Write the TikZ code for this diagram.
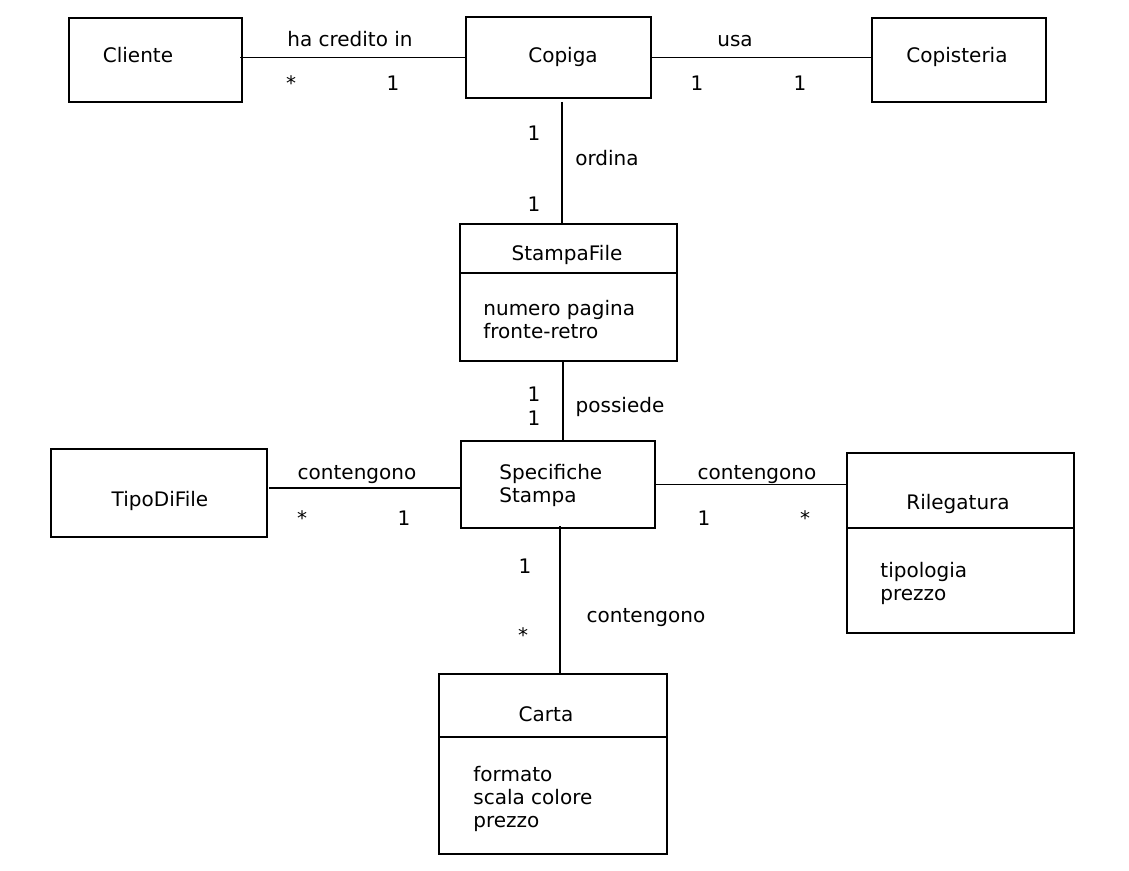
\documentclass[tikz,border=0pt]{standalone}
\usepackage{fontspec}
\setmainfont{DejaVu Sans}
\begin{document}
\begin{tikzpicture}[
		     x=0.5pt, y=-0.5pt,
		     font=\fontsize{10}{11.5}\selectfont,
		     class/.style={draw,line width=1pt,inner sep=0pt,outer sep=0pt},
		     lbl/.style={anchor=base,inner sep=0pt,yshift=-1pt},
		     attr/.style={anchor=base west,inner sep=0pt,yshift=-1pt},
		     assoc/.style={line width=0.9pt},
		     divider/.style={line width=0.6pt}
		     ]
\useasboundingbox (0,0) rectangle (1129,871);
% classes
\node[class,minimum width=86.5pt,minimum height=42pt] (cliente) at (155.5,60) {};
\node[class,minimum width=92.5pt,minimum height=40.5pt] (copiga) at (558.5,57.5) {};
\node[class,minimum width=87pt,minimum height=42pt] (copisteria) at (959,60) {};
\node[class,minimum width=108.5pt,minimum height=68.5pt] (stampafile) at (568.5,292.5) {};
\node[class,minimum width=97pt,minimum height=43.5pt] (specifiche) at (558,484.5) {};
\node[class,minimum width=108pt,minimum height=44pt] (tipodifile) at (159,493) {};
\node[class,minimum width=113.5pt,minimum height=90pt] (rilegatura) at (960.5,543) {};
\node[class,minimum width=114pt,minimum height=90pt] (carta) at (553,764) {};
\draw[divider] (stampafile.west |- 0,273) -- (stampafile.east |- 0,273);
\draw[divider] (rilegatura.west |- 0,528) -- (rilegatura.east |- 0,528);
\draw[divider] (carta.west |- 0,737) -- (carta.east |- 0,737);
% class names and attributes
\node[lbl] (n-cliente) at (138,61) {Cliente};
\node[lbl] (n-copiga) at (563,61) {Copiga};
\node[lbl] (n-copisteria) at (957,61) {Copisteria};
\node[lbl] (n-stampafile) at (567,259) {StampaFile};
\node[attr] (a-numero) at (483,314) {numero pagina};
\node[attr] (a-fronte) at (483,337) {fronte-retro};
\node[attr] (n-spec1) at (499,477) {Specifiche};
\node[attr] (n-spec2) at (499,500) {Stampa};
\node[lbl] (n-tipodifile) at (160,504) {TipoDiFile};
\node[lbl] (n-rilegatura) at (958,507) {Rilegatura};
\node[attr] (a-tipologia) at (880,575) {tipologia};
\node[attr] (a-prezzo1) at (880,598) {prezzo};
\node[lbl] (n-carta) at (546,719) {Carta};
\node[attr] (a-formato) at (473,779) {formato};
\node[attr] (a-scala) at (473,802) {scala colore};
\node[attr] (a-prezzo2) at (473,825) {prezzo};
% associations
\draw[assoc] ([xshift=-1pt]cliente.east |- copiga.west) -- (copiga.west);
\draw[assoc] (copiga.east) -- (copisteria.west |- copiga.east);
\draw[assoc] ([xshift=1.75pt,yshift=-2pt]copiga.south) -- ([xshift=1.75pt]copiga.south |- stampafile.north);
\draw[assoc] ([xshift=-2.75pt]stampafile.south) -- ([xshift=2.5pt]specifiche.north);
\draw[assoc] ([shift={(1pt,2.5pt)}]tipodifile.east) -- ([yshift=-1.75pt]specifiche.west);
\draw[assoc] (specifiche.east) -- (rilegatura.west |- specifiche.east);
\draw[assoc] ([xshift=1pt,yshift=1pt]specifiche.south) -- ([xshift=1pt]specifiche.south |- carta.north);
% association names and multiplicities
\node[lbl] (r-credito) at (350,45) {ha credito in};
\node[lbl] (m-cl) at (291,89) {*};
\node[lbl] (m-cp1) at (393,89) {1};
\node[lbl] (r-usa) at (735,45) {usa};
\node[lbl] (m-cp2) at (697,89) {1};
\node[lbl] (m-cs) at (800,89) {1};
\node[lbl] (m-cp3) at (534,139) {1};
\node[lbl] (r-ordina) at (607,164) {ordina};
\node[lbl] (m-sf1) at (534,210) {1};
\node[lbl] (m-sf2) at (534,399) {1};
\node[lbl] (m-sp1) at (534,423) {1};
\node[lbl] (r-possiede) at (620,411) {possiede};
\node[lbl] (r-cont1) at (357,477) {contengono};
\node[lbl] (m-tf) at (302,523) {*};
\node[lbl] (m-sp2) at (404,523) {1};
\node[lbl] (r-cont2) at (757,477) {contengono};
\node[lbl] (m-sp3) at (704,523) {1};
\node[lbl] (m-ri) at (805,523) {*};
\node[lbl] (m-sp4) at (525,571) {1};
\node[lbl] (r-cont3) at (646,620) {contengono};
\node[lbl] (m-ca) at (523,640) {*};
\end{tikzpicture}
\end{document}
